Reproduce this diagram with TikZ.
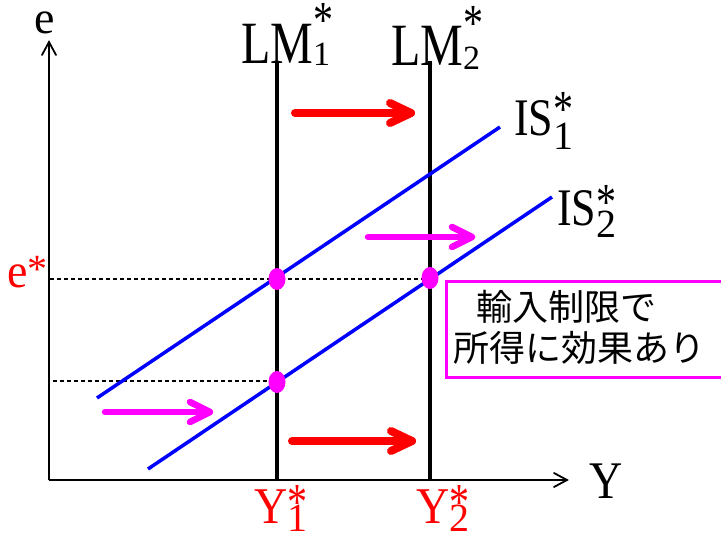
\documentclass[tikz,border=0pt]{standalone}
\usepackage{fontspec}
\setmainfont{Liberation Serif}
\newfontfamily\jpfont{Noto Sans CJK JP}
\usetikzlibrary{calc}
\definecolor{mag}{RGB}{255,0,255}
\definecolor{bl}{RGB}{0,0,255}
\definecolor{rd}{RGB}{255,0,0}
\newcommand{\mainlbl}[3]{\scalebox{1}[#3]{\fontsize{#2}{#2}\selectfont #1}}
% #1 sub text, #2 sub size, #3 sub drop, #4 star raise
\newcommand{\starsub}[4]{\makebox[0pt][l]{\raisebox{-#3}{\fontsize{#2}{#2}\selectfont #1}}\raisebox{#4}{\scalebox{1}[1.3]{\fontsize{40}{40}\selectfont *}}}
\tikzset{
  lab/.style={inner sep=0pt, anchor=base west},
  axis/.style={line width=2.5pt},
  axhead/.style={line width=1.8pt, line cap=round, line join=miter},
  lmline/.style={line width=3.5pt},
  isline/.style={line width=3.5pt, draw=bl},
  guide/.style={line width=1.1pt, dash pattern=on 4pt off 3pt},
  dot/.style={fill=mag, draw=none},
  redarrow/.style={line width=8pt, draw=rd, line cap=round, line join=round},
  magarrow/.style={line width=6.5pt, draw=mag, line cap=round, line join=round},
  jptext/.style={inner sep=0pt, anchor=base west, font=\jpfont\fontsize{36}{36}\selectfont},
}
\begin{document}
\begin{tikzpicture}[x=1pt, y=-1pt]
\useasboundingbox (0,0) rectangle (721,533);
% axes
\coordinate (O) at (49,480);
\coordinate (ytop) at (49,42);
\coordinate (xend) at (567,480);
\draw[axis] (O) -- (ytop);
\draw[axis] (O) -- (xend);
\draw[axhead] ($(ytop)+(-7,13)$) -- (ytop) -- ($(ytop)+(7,13)$);
\draw[axhead] ($(xend)+(-13,-7)$) -- (xend) -- ($(xend)+(-13,7)$);
\node[lab] (e) at (34,33) {\mainlbl{e}{46}{1}};
\node[lab] (Y) at (589,498) {\mainlbl{Y}{46}{1.15}};
% guides
\coordinate (g1a) at (50,279);
\coordinate (g1b) at (430,279);
\coordinate (g2a) at (53,381);
\coordinate (g2b) at (277,381);
\draw[guide] (g1a) -- (g1b);
\draw[guide] (g2a) -- (g2b);
% LM lines
\coordinate (lm1t) at (277,63);
\coordinate (lm1b) at (277,480);
\coordinate (lm2t) at (430,61);
\coordinate (lm2b) at (430,480);
\draw[lmline] (lm1t) -- (lm1b);
\draw[lmline] (lm2t) -- (lm2b);
\node[lab] (LM1) at (241,63) {\mainlbl{LM}{48}{1.25}\starsub{1}{34}{2pt}{26pt}};
\node[lab] (LM2) at (391,65) {\mainlbl{LM}{48}{1.25}\starsub{2}{34}{4pt}{25pt}};
% IS lines
\coordinate (is1a) at (97,398);
\coordinate (is1b) at (500,127);
\coordinate (is2a) at (148,469);
\coordinate (is2b) at (552,197);
\draw[isline] (is1a) -- (is1b);
\draw[isline] (is2a) -- (is2b);
\node[lab] (IS1) at (514,135) {\mainlbl{IS}{44}{1.2}\starsub{1}{40}{14pt}{9pt}};
\node[lab] (IS2) at (557,225) {\mainlbl{IS}{44}{1.2}\starsub{2}{40}{12pt}{6pt}};
% dots
\fill[dot] (277,279) ellipse [x radius=8.5, y radius=11];
\fill[dot] (430,278) ellipse [x radius=8.5, y radius=11];
\fill[dot] (277,382) ellipse [x radius=8.5, y radius=11];
% red labels
\node[lab, text=rd] (estar) at (7,287) {\mainlbl{e}{46}{1.05}\raisebox{5pt}{\fontsize{40}{40}\selectfont *}};
\node[lab, text=rd] (Y1) at (254,523) {\mainlbl{Y}{46}{1.12}\starsub{1}{40}{8pt}{4pt}};
\node[lab, text=rd] (Y2) at (416,523) {\mainlbl{Y}{46}{1.12}\starsub{2}{40}{8pt}{4pt}};
% red arrows
\coordinate (ra1s) at (295,113);
\coordinate (ra1e) at (411,113);
\coordinate (ra2s) at (292,441);
\coordinate (ra2e) at (412,441);
\draw[redarrow] (ra1s) -- (ra1e);
\draw[redarrow] ($(ra1e)+(-21,-10)$) -- (ra1e) -- ($(ra1e)+(-21,10)$);
\draw[redarrow] (ra2s) -- (ra2e);
\draw[redarrow] ($(ra2e)+(-21,-10)$) -- (ra2e) -- ($(ra2e)+(-21,10)$);
% magenta arrows
\coordinate (ma1s) at (368,237);
\coordinate (ma1e) at (472,237);
\coordinate (ma2s) at (105,412);
\coordinate (ma2e) at (210,412);
\draw[magarrow] (ma1s) -- (ma1e);
\draw[magarrow] ($(ma1e)+(-20,-10)$) -- (ma1e) -- ($(ma1e)+(-20,10)$);
\draw[magarrow] (ma2s) -- (ma2e);
\draw[magarrow] ($(ma2e)+(-20,-10)$) -- (ma2e) -- ($(ma2e)+(-20,10)$);
% box
\draw[mag, line width=3pt] (725,281) -| (446,377) -- (725,377);
\node[jptext] (t1) at (476,320) {輸入制限で};
\node[jptext] (t2) at (453,361) {所得に効果あり};
\end{tikzpicture}
\end{document}
